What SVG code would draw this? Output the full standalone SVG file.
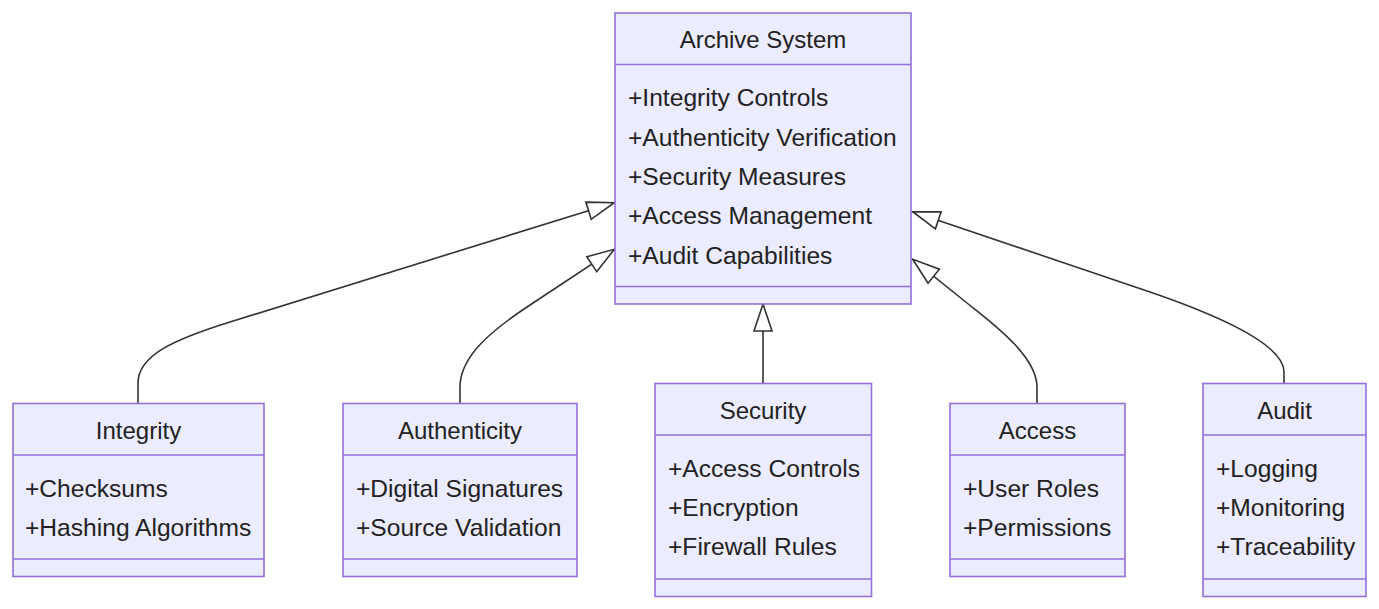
<svg xmlns="http://www.w3.org/2000/svg" width="1379" height="609" viewBox="0 0 1379 609">
<style>
.box{fill:#ECECFF;stroke:#9370DB;stroke-width:1.6}
.div{stroke:#9370DB;stroke-width:1.6}
.t{font-family:"Liberation Sans",Arial,sans-serif;font-size:24.6px;fill:#222}
.c{text-anchor:middle;font-size:24px}
.edge{fill:none;stroke:#333;stroke-width:1.6}
</style>
<defs>
<marker id="ext" markerUnits="userSpaceOnUse" markerWidth="32" markerHeight="24" viewBox="-2 -12 32 24" refX="27" refY="0" orient="auto">
<path d="M0,-9 L27,0 L0,9 Z" fill="#fff" stroke="#333" stroke-width="1.6"/>
</marker>
</defs>
<rect width="1379" height="609" fill="#fff"/>
<g id="connectors">
<path class="edge" marker-end="url(#ext)" d="M138,403 L138,383 C138,356 172,340 230,322 L614.3,202.7"/>
<path class="edge" marker-end="url(#ext)" d="M460,403 L460,387 C460,356 492,330.1 530,305 L614.3,249.3"/>
<path class="edge" marker-end="url(#ext)" d="M763,383 L763,304"/>
<path class="edge" marker-end="url(#ext)" d="M1037,403 L1037,387 C1037,356 992,323 967,303 L912.7,259.3"/>
<path class="edge" marker-end="url(#ext)" d="M1284,383 L1284,372 C1284,345 1220,316 1150,292 L912.7,211.7"/>
</g>
<g id="archive">
<rect class="box" x="615" y="13" width="296" height="291"/>
<line class="div" x1="615" y1="64.5" x2="911" y2="64.5"/>
<line class="div" x1="615" y1="286.5" x2="911" y2="286.5"/>
<text class="t c" x="763" y="48">Archive System</text>
<text class="t" x="628" y="106">+Integrity Controls</text>
<text class="t" x="628" y="145.5">+Authenticity Verification</text>
<text class="t" x="628" y="185">+Security Measures</text>
<text class="t" x="628" y="224">+Access Management</text>
<text class="t" x="628" y="263.5">+Audit Capabilities</text>
</g>
<g id="integrity">
<rect class="box" x="13" y="403.5" width="251" height="173"/>
<line class="div" x1="13" y1="455" x2="264" y2="455"/>
<line class="div" x1="13" y1="559" x2="264" y2="559"/>
<text class="t c" x="138.5" y="439">Integrity</text>
<text class="t" x="25" y="497">+Checksums</text>
<text class="t" x="25" y="536">+Hashing Algorithms</text>
</g>
<g id="authenticity">
<rect class="box" x="343" y="403.5" width="234" height="173"/>
<line class="div" x1="343" y1="455" x2="577" y2="455"/>
<line class="div" x1="343" y1="559" x2="577" y2="559"/>
<text class="t c" x="460" y="439">Authenticity</text>
<text class="t" x="356" y="497">+Digital Signatures</text>
<text class="t" x="356" y="536">+Source Validation</text>
</g>
<g id="security">
<rect class="box" x="655" y="383.5" width="216.5" height="213"/>
<line class="div" x1="655" y1="435" x2="871.5" y2="435"/>
<line class="div" x1="655" y1="579" x2="871.5" y2="579"/>
<text class="t c" x="763" y="418.5">Security</text>
<text class="t" x="668" y="477">+Access Controls</text>
<text class="t" x="668" y="516">+Encryption</text>
<text class="t" x="668" y="555">+Firewall Rules</text>
</g>
<g id="access">
<rect class="box" x="950" y="403.5" width="175" height="173"/>
<line class="div" x1="950" y1="455" x2="1125" y2="455"/>
<line class="div" x1="950" y1="559" x2="1125" y2="559"/>
<text class="t c" x="1037.5" y="439">Access</text>
<text class="t" x="963" y="497">+User Roles</text>
<text class="t" x="963" y="536">+Permissions</text>
</g>
<g id="audit">
<rect class="box" x="1203" y="383.5" width="163" height="213"/>
<line class="div" x1="1203" y1="435" x2="1366" y2="435"/>
<line class="div" x1="1203" y1="579" x2="1366" y2="579"/>
<text class="t c" x="1284.5" y="418.5">Audit</text>
<text class="t" x="1216" y="477">+Logging</text>
<text class="t" x="1216" y="516">+Monitoring</text>
<text class="t" x="1216" y="555">+Traceability</text>
</g>
</svg>
